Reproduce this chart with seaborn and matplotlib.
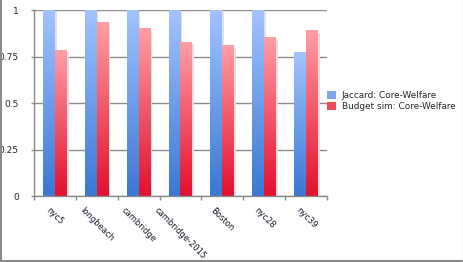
import numpy as np
import pandas as pd
import seaborn as sns
import matplotlib.pyplot as plt
from matplotlib.colors import LinearSegmentedColormap
from matplotlib.patches import Rectangle, Patch

# Data
cities = ["nyc5", "longbeach", "cambridge", "cambridge-2015", "Boston", "nyc28", "nyc39"]
jaccard = [1.0, 1.0, 1.0, 1.0, 1.0, 1.0, 0.775]
budget_sim = [0.783, 0.934, 0.90, 0.829, 0.808, 0.851, 0.889]
series_names = ["Jaccard: Core-Welfare", "Budget sim: Core-Welfare"]

df = pd.DataFrame({
    "city": cities * 2,
    "value": jaccard + budget_sim,
    "series": [series_names[0]] * len(cities) + [series_names[1]] * len(cities),
})

# gradient colours (bottom -> top)
blue_cmap = LinearSegmentedColormap.from_list("b", ["#3a78d3", "#a2c3ff"])
red_cmap = LinearSegmentedColormap.from_list("r", ["#e2102e", "#ff9ea4"])

sns.set_style("white")
fig = plt.figure(figsize=(4.63, 2.62), dpi=100)
ax = fig.add_axes([34 / 463, 66 / 262, 293 / 463, 185.7 / 262])

sns.barplot(data=df, x="city", y="value", hue="series", order=cities,
            hue_order=series_names, width=0.57, gap=0, ax=ax, legend=False,
            palette=["#6f9de8", "#f2505f"])

# replace flat bars with vertical gradients + soft shadow
grad = np.linspace(0, 1, 256).reshape(-1, 1)
n = len(cities)
for i, bar in enumerate(ax.patches[:2 * n]):
    x, w, h = bar.get_x(), bar.get_width(), bar.get_height()
    cmap = blue_cmap if i < n else red_cmap
    ax.add_patch(Rectangle((x + w, 0), 0.04, h - 0.01, color="#e0e0e0",
                           lw=0, zorder=1.5))
    ax.imshow(grad, cmap=cmap, origin="lower", aspect="auto",
              extent=(x, x + w, 0, h), zorder=2 + (i >= n) * 0.1)
    bar.set_visible(False)

ax.set_xlim(-0.5, n - 0.5)
ax.set_ylim(0, 1)
ax.set_yticks([0, 0.25, 0.5, 0.75, 1])
ax.set_yticklabels(["0", "0.25", "0.5", "0.75", "1"])
ax.yaxis.grid(True, color="#8c8c8c", lw=1)
ax.set_axisbelow(True)
ax.set_xlabel("")
ax.set_ylabel("")

# category boundary ticks on the x axis
ax.set_xticks(np.arange(n + 1) - 0.5, minor=True)
ax.tick_params(axis="x", which="minor", length=3, width=1, color="#8c8c8c",
               direction="out", bottom=True)
ax.tick_params(axis="x", which="major", length=0, pad=7, labelsize=6)
ax.tick_params(axis="y", length=2, width=1, color="#8c8c8c", direction="out",
               left=True, pad=9, labelsize=6.5)
for lab in ax.get_xticklabels():
    lab.set_rotation(-45)
    lab.set_ha("center")
    lab.set_va("top")
    lab.set_color("#1a1a2e")

sns.despine(ax=ax, top=True, right=True)
for side in ["left", "bottom"]:
    ax.spines[side].set_color("#8c8c8c")
    ax.spines[side].set_linewidth(1)

handles = [Patch(facecolor="#7aa5ec", edgecolor="none"),
           Patch(facecolor="#f04a5c", edgecolor="none")]
fig.legend(handles, series_names, loc="center left",
           bbox_to_anchor=(327 / 463, 1 - 101 / 262), frameon=False,
           fontsize=6.4, handlelength=1.05, handleheight=1.0, handletextpad=0.6,
           labelspacing=0.3, borderpad=0, borderaxespad=0)

# outer frame
fig.add_artist(plt.Line2D([0.5 / 463, 0.5 / 463], [0, 1], color="#8a8a8a", lw=1.5,
                          transform=fig.transFigure))
fig.add_artist(plt.Line2D([0, 1], [1 / 262, 1 / 262], color="#8a8a8a", lw=1.5,
                          transform=fig.transFigure))
fig.add_artist(plt.Line2D([462.5 / 463, 462.5 / 463], [0, 1], color="#ececec", lw=1,
                          transform=fig.transFigure))

fig.savefig("out.png", dpi=100)
